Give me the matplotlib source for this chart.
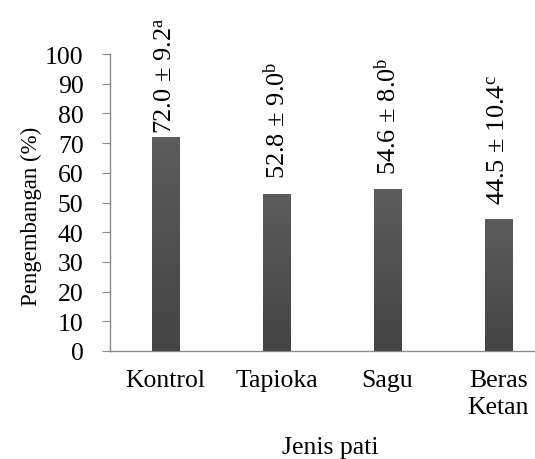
import numpy as np
import matplotlib
matplotlib.use("Agg")
import matplotlib.pyplot as plt
from matplotlib.colors import LinearSegmentedColormap

plt.rcParams['font.family'] = ['Liberation Serif', 'DejaVu Serif']
plt.rcParams['mathtext.fontset'] = 'custom'
plt.rcParams['mathtext.rm'] = 'Liberation Serif'
plt.rcParams['mathtext.it'] = 'Liberation Serif:italic'
plt.rcParams['mathtext.bf'] = 'Liberation Serif:bold'

categories = ["Kontrol", "Tapioka", "Sagu", "Beras\nKetan"]
means = [72.0, 52.8, 54.6, 44.5]
sds = ["9.2", "9.0", "8.0", "10.4"]
mean_txt = ["72.0", "52.8", "54.6", "44.5"]
letters = ["a", "b", "b", "c"]
yticks = [0, 10, 20, 30, 40, 50, 60, 70, 80, 90, 100]

W, H = 535, 460
fig = plt.figure(figsize=(W / 100, H / 100), dpi=100)
ax = fig.add_axes([110 / W, (H - 352) / H, 444 / W, 297 / H])

x = np.arange(len(categories))
bars = ax.bar(x, means, width=0.25, color="#505050", zorder=2)

# vertical gradient fill, lighter at the top
cmap = LinearSegmentedColormap.from_list("g", ["#444444", "#5c5c5c"])
grad = np.linspace(0, 1, 256).reshape(-1, 1)
for b in bars:
    x0, w, h = b.get_x(), b.get_width(), b.get_height()
    im = ax.imshow(grad, cmap=cmap, origin="lower", aspect="auto",
                   extent=[x0, x0 + w, 0, h], zorder=3)
    im.set_clip_path(b)

# gap (points) between each bar top and its value label
label_pad = [3, 12, 11, 11]
for xi, m, mt, sd, lt, pad in zip(x, means, mean_txt, sds, letters, label_pad):
    ax.annotate(f"{mt} ± {sd}$^{{\\mathrm{{{lt}}}}}$", (xi, m),
                xytext=(0, pad), textcoords="offset points",
                rotation=90, ha="center", va="bottom", fontsize=19)

ax.set_xlim(-0.5, 3.5)
ax.set_ylim(0, 100)
ax.set_yticks(yticks)
ax.set_xticks(x)
ax.set_xticklabels(categories, fontsize=18.5, linespacing=1.3, va="top")
ax.tick_params(axis="y", labelsize=18.5, length=6, color="#8a8a8a", pad=13)
ax.tick_params(axis="x", length=0, pad=13)
for s in ["top", "right"]:
    ax.spines[s].set_visible(False)
for s in ["left", "bottom"]:
    ax.spines[s].set_color("#8a8a8a")
    ax.spines[s].set_linewidth(1.0)

ax.set_ylabel("Pengembangan (%)", fontsize=16.5)
ax.yaxis.set_label_coords(-0.153, 0.455)
ax.set_xlabel("Jenis pati", fontsize=18.5)
ax.xaxis.set_label_coords(0.495, -0.285)

fig.savefig("out.png", dpi=100)
